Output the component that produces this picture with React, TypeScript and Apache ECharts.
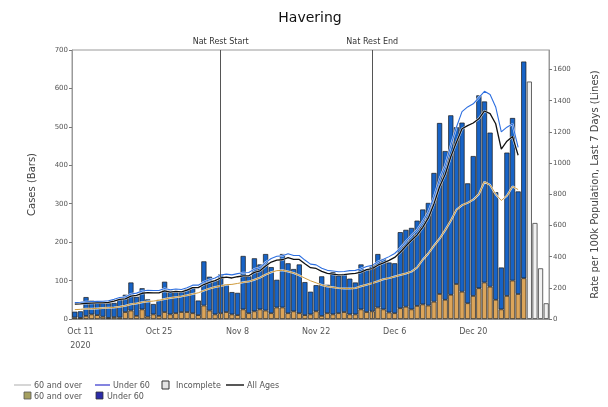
import { useEffect, useRef } from 'react';
import * as echarts from 'echarts';

// ---- data ----
const monthNames = ['Jan', 'Feb', 'Mar', 'Apr', 'May', 'Jun', 'Jul', 'Aug', 'Sep', 'Oct', 'Nov', 'Dec'];
const firstDay = Date.UTC(2020, 9, 10); // Oct 10 2020
const dayCount = 85; // Oct 10 .. Jan 2
const tickDates = ['Oct 11', 'Oct 25', 'Nov 8', 'Nov 22', 'Dec 6', 'Dec 20'];
const yearLabel = '2020';
const natRestStart = 'Nov 5';
const natRestEnd = 'Dec 2';

const over60Cases = [
  4, 3, 8, 12, 10, 6, 3, 5, 4, 18,
  22, 8, 25, 6, 12, 8, 18, 12, 15, 18,
  18, 15, 10, 35, 22, 12, 15, 18, 12, 10,
  25, 15, 20, 25, 22, 15, 30, 30, 15, 20,
  15, 10, 12, 20, 8, 15, 12, 15, 18, 12,
  12, 25, 18, 20, 30, 25, 17, 15, 28, 32,
  25, 34, 38, 35, 45, 65, 50, 63, 91, 71,
  41, 60, 80, 95, 84, 50, 25, 60, 100, 65,
  106,
];
const under60Cases = [
  15, 17, 49, 36, 35, 39, 38, 37, 46, 45,
  73, 50, 55, 45, 27, 42, 79, 62, 55, 54,
  60, 67, 38, 115, 88, 88, 101, 72, 58, 58,
  139, 96, 138, 117, 147, 120, 72, 139, 130, 110,
  127, 86, 59, 68, 103, 74, 110, 98, 99, 93,
  83, 117, 110, 120, 139, 131, 130, 130, 198, 200,
  212, 222, 247, 267, 335, 445, 387, 467, 408, 440,
  312, 364, 502, 471, 401, 280, 109, 373, 423, 267,
  564,
];
const incompleteCases = [618, 250, 132, 41];

const rateAll = [
  95, 97, 100, 102, 103, 104, 106, 115, 126, 129,
  147, 152, 165, 169, 168, 168, 181, 173, 177, 174,
  185, 201, 201, 221, 235, 246, 263, 268, 263, 271,
  276, 277, 299, 309, 340, 365, 378, 380, 393, 382,
  382, 354, 329, 324, 305, 292, 288, 283, 285, 290,
  292, 301, 316, 323, 345, 360, 376, 395, 428, 468,
  505, 539, 588, 648, 738, 848, 927, 1040, 1133, 1220,
  1240, 1257, 1284, 1334, 1317, 1252, 1090, 1140, 1170, 1050,
];
const rateUnder60 = [
  105, 107, 110, 112, 113, 114, 117, 126, 138, 141,
  160, 166, 180, 184, 183, 183, 196, 188, 192, 189,
  200, 217, 217, 238, 252, 263, 282, 288, 283, 291,
  297, 298, 320, 330, 363, 388, 402, 405, 418, 407,
  407, 378, 352, 347, 325, 312, 308, 303, 305, 310,
  312, 322, 337, 344, 367, 383, 400, 420, 455, 497,
  536, 572, 624, 688, 782, 898, 985, 1110, 1230, 1330,
  1360, 1380, 1420, 1460, 1440, 1360, 1200, 1230, 1250, 1100,
];
const rateOver60 = [
  60, 62, 65, 66, 68, 70, 72, 74, 78, 85,
  95, 100, 108, 112, 115, 120, 128, 135, 140, 145,
  152, 160, 168, 182, 195, 205, 212, 220, 222, 228,
  235, 240, 252, 265, 285, 300, 310, 312, 305, 295,
  280, 262, 245, 232, 218, 208, 203, 198, 196, 195,
  198, 210, 220, 230, 242, 255, 262, 272, 282, 292,
  304, 330, 380, 420, 470, 515, 570, 630, 700, 730,
  745, 765, 800, 880, 860, 800, 760, 790, 850, 830,
];

const FONT = 'DejaVu Sans';

const categories: string[] = [];
for (let i = 0; i < dayCount; i++) {
  const d = new Date(firstDay + i * 86400000);
  categories.push(`${monthNames[d.getUTCMonth()]} ${d.getUTCDate()}`);
}
const pad = (arr: number[]) => categories.map((_, i) => (i < arr.length ? arr[i] : '-'));
const incompleteData = categories.map((_, i) => {
  const k = i - (dayCount - incompleteCases.length);
  return k >= 0 ? incompleteCases[k] : '-';
});
const tickIdx = tickDates.map((t) => categories.indexOf(t));
const showTick = (index: number) => tickIdx.includes(index);

export default function App() {
  const ref = useRef<HTMLDivElement>(null);
  useEffect(() => {
    if (!ref.current) return;
    const chart = echarts.init(ref.current, null, { renderer: 'svg' });
    const barBorder = { borderColor: '#1a1a1a', borderWidth: 0.7 };
    const lineSeries = (name: string, data: number[], color: string, width: number) => [
      {
        name: name + '_halo',
        type: 'line',
        yAxisIndex: 1,
        data: pad(data),
        symbol: 'none',
        silent: true,
        z: 3,
        lineStyle: { color: '#ffffff', width: width + 1, opacity: 0.8 },
      },
      {
        name,
        type: 'line',
        yAxisIndex: 1,
        data: pad(data),
        symbol: 'none',
        z: 4,
        lineStyle: { color, width },
      },
    ];
    const legendText = (x: number, y: number, t: string) => ({
      type: 'text',
      x,
      y,
      style: { text: t, fontSize: 8, fontFamily: FONT, fill: '#555', verticalAlign: 'middle' },
    });
    chart.setOption({
      animation: false,
      textStyle: { fontFamily: FONT },
      grid: { left: 72, right: 59, top: 50, bottom: 88, show: true, borderColor: '#9a9a9a', borderWidth: 1 },
      xAxis: {
        type: 'category',
        data: categories,
        axisLine: { lineStyle: { color: '#9a9a9a' } },
        axisTick: { interval: (i: number) => showTick(i), alignWithLabel: true, length: 3, lineStyle: { color: '#777' } },
        axisLabel: {
          interval: (i: number) => showTick(i),
          fontSize: 8,
          color: '#555',
          margin: 5,
          lineHeight: 14,
          formatter: (v: string) => (v === tickDates[0] ? `${v}\n${yearLabel}` : v),
        },
      },
      yAxis: [
        {
          type: 'value',
          min: 0,
          max: 700,
          interval: 100,
          name: 'Cases (Bars)',
          nameLocation: 'middle',
          nameGap: 36,
          nameTextStyle: { fontSize: 10, color: '#444', fontFamily: FONT },
          axisLine: { show: true, lineStyle: { color: '#9a9a9a' } },
          axisTick: { show: true, length: 3, lineStyle: { color: '#777' } },
          axisLabel: { fontSize: 7, color: '#555', margin: 4 },
          splitLine: { show: false },
        },
        {
          type: 'value',
          min: 0,
          max: 1725,
          interval: 200,
          name: 'Rate per 100k Population, Last 7 Days (Lines)',
          nameLocation: 'middle',
          nameGap: 40,
          nameRotate: 90,
          nameTextStyle: { fontSize: 10, color: '#444', fontFamily: FONT },
          axisLine: { show: true, lineStyle: { color: '#9a9a9a' } },
          axisTick: { show: true, length: 3, lineStyle: { color: '#777' } },
          axisLabel: { fontSize: 7, color: '#555', margin: 4, showMaxLabel: false, formatter: (v: number) => String(v) },
          splitLine: { show: false },
        },
      ],
      series: [
        {
          name: '60 and over',
          type: 'bar',
          stack: 'cases',
          data: pad(over60Cases),
          barCategoryGap: '8%',
          itemStyle: { color: '#dca55a', ...barBorder },
          markLine: {
            silent: true,
            symbol: 'none',
            lineStyle: { color: '#555', width: 1, type: 'solid' },
            label: { position: 'end', fontSize: 8, color: '#333', fontFamily: FONT, distance: 5 },
            data: [
              [
                { xAxis: natRestStart, yAxis: 0, label: { formatter: 'Nat Rest Start' } },
                { xAxis: natRestStart, yAxis: 700 },
              ],
              [
                { xAxis: natRestEnd, yAxis: 0, label: { formatter: 'Nat Rest End' } },
                { xAxis: natRestEnd, yAxis: 700 },
              ],
            ],
          },
        },
        {
          name: 'Under 60',
          type: 'bar',
          stack: 'cases',
          data: pad(under60Cases),
          itemStyle: { color: '#1763c6', ...barBorder },
        },
        {
          name: 'Incomplete',
          type: 'bar',
          stack: 'cases',
          data: incompleteData,
          itemStyle: { color: '#f2f2f2', borderColor: '#555', borderWidth: 0.9 },
        },
        ...lineSeries('60 and over rate', rateOver60, '#cf9a3c', 1.0),
        ...lineSeries('Under 60 rate', rateUnder60, '#2d6fe0', 1.1),
        ...lineSeries('All Ages rate', rateAll, '#111111', 1.3),
      ],
      graphic: [
        {
          type: 'text',
          x: 310,
          y: 17,
          style: { text: 'Havering', fontSize: 14, fontFamily: FONT, fill: '#111', align: 'center', verticalAlign: 'middle' },
        },
        { type: 'line', shape: { x1: 14, y1: 385, x2: 31, y2: 385 }, style: { stroke: '#bbbbbb', lineWidth: 1.2 } },
        legendText(34, 385, '60 and over'),
        { type: 'line', shape: { x1: 95, y1: 385, x2: 110, y2: 385 }, style: { stroke: '#3333cc', lineWidth: 1.2 } },
        legendText(113, 385, 'Under 60'),
        { type: 'rect', shape: { x: 162, y: 381, width: 7, height: 8 }, style: { fill: '#e4e4e4', stroke: '#333', lineWidth: 1 } },
        legendText(176, 385, 'Incomplete'),
        { type: 'line', shape: { x1: 226, y1: 385, x2: 244, y2: 385 }, style: { stroke: '#111', lineWidth: 1.4 } },
        legendText(247, 385, 'All Ages'),
        { type: 'rect', shape: { x: 24, y: 392, width: 7, height: 7 }, style: { fill: '#a5a060', stroke: '#555', lineWidth: 0.8 } },
        legendText(34, 396, '60 and over'),
        { type: 'rect', shape: { x: 96, y: 392, width: 7, height: 7 }, style: { fill: '#2b2ba8', stroke: '#333', lineWidth: 0.8 } },
        legendText(107, 396, 'Under 60'),
      ],
    });
    return () => chart.dispose();
  }, []);
  return <div ref={ref} style={{ position: 'fixed', left: 0, top: 0, width: 608, height: 407 }} />;
}
